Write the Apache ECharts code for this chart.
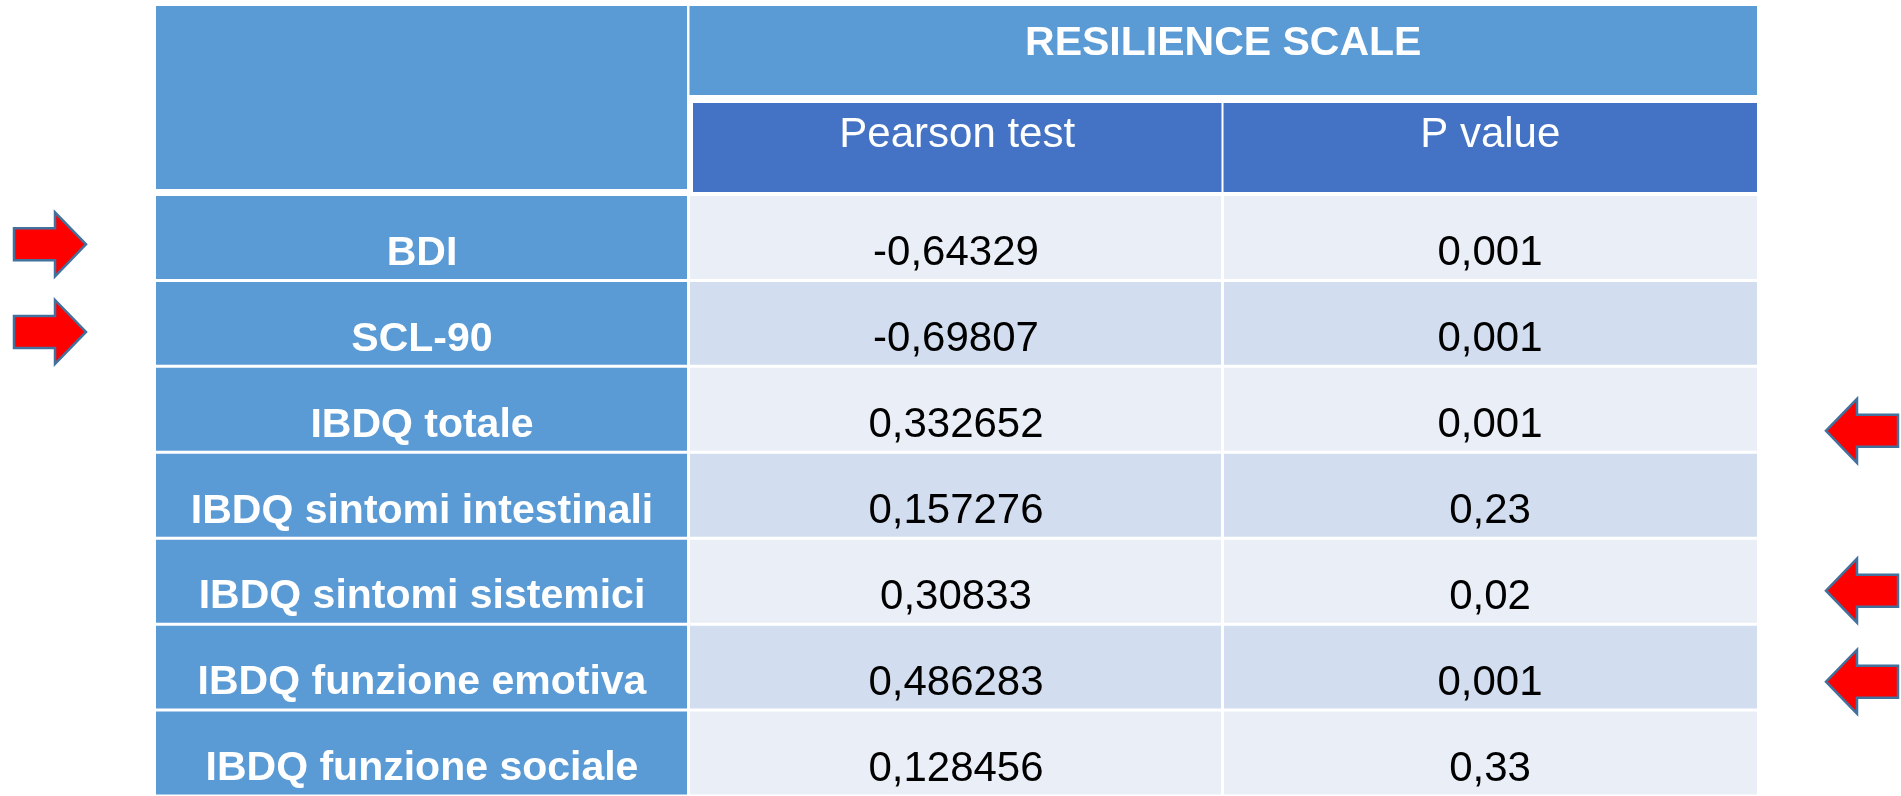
<!DOCTYPE html>
<html>
<head>
<meta charset="utf-8">
<script src="https://cdn.jsdelivr.net/npm/echarts@6/dist/echarts.min.js"></script>
<style>
html,body{margin:0;padding:0;background:#ffffff;}
#chart{width:1901px;height:796px;}
</style>
</head>
<body>
<div id="chart"></div>
<script>
// ---- data ----
const columnTitle = 'RESILIENCE SCALE';
const subHeaders = ['Pearson test', 'P value'];
const rowLabels = [
  'BDI',
  'SCL-90',
  'IBDQ totale',
  'IBDQ sintomi intestinali',
  'IBDQ sintomi sistemici',
  'IBDQ funzione emotiva',
  'IBDQ funzione sociale'
];
const pearsonValues = ['-0,64329', '-0,69807', '0,332652', '0,157276', '0,30833', '0,486283', '0,128456'];
const pValues = ['0,001', '0,001', '0,001', '0,23', '0,02', '0,001', '0,33'];
// arrow markers: row position (in row units from the top of the body)
const arrowsLeft = [0.58, 1.60];
const arrowsRight = [2.75, 4.61, 5.67];

// ---- build series data ----
const bodyData = [];
rowLabels.forEach(function (lab, i) {
  bodyData.push([0, i, lab]);
  bodyData.push([1, i, pearsonValues[i]]);
  bodyData.push([2, i, pValues[i]]);
});
// [col, row, colspan, rowspan, kind, text]
const headerData = [
  [0, 0, 1, 2, 'corner', ''],
  [1, 0, 2, 1, 'title', columnTitle],
  [1, 1, 1, 1, 'sub', subHeaders[0]],
  [2, 1, 1, 1, 'sub', subHeaders[1]]
];
const arrowData = arrowsLeft.map(function (v) { return [0, v]; })
  .concat(arrowsRight.map(function (v) { return [1, v]; }));

const FONT = "'Liberation Sans', Arial, sans-serif";
const C_HEAD = '#5B9BD5', C_SUB = '#4472C4', C_BAND1 = '#EAEFF7', C_BAND2 = '#D2DEEF';

function bodyItem(params, api) {
  const j = api.value(0), i = api.value(1);
  const p = api.coord([j, i]);
  const s = api.size([1, 1]);
  const bw = s[0], rh = s[1];
  const x0 = p[0] - bw / 2 + 1;
  const x1 = p[0] + bw / 2 - (j === 2 ? 0 : 2);
  const y0 = p[1] + 1.5, y1 = p[1] + rh - 1.5;
  const fill = j === 0 ? C_HEAD : (i % 2 === 0 ? C_BAND1 : C_BAND2);
  const label = api.value(2);
  return {
    type: 'group',
    children: [
      { type: 'rect', shape: { x: x0, y: y0, width: x1 - x0, height: y1 - y0 }, style: { fill: fill } },
      { type: 'text', x: p[0], y: p[1] + rh / 2 + 16,
        style: { text: String(label), fill: j === 0 ? '#ffffff' : '#000000',
          font: (j === 0 ? 'bold 41px ' : '42px ') + FONT, align: 'center', verticalAlign: 'middle' } }
    ]
  };
}

function headerItem(params, api) {
  const d = headerData[params.dataIndex];
  const col = d[0], row = d[1], cs = d[2], rs = d[3], kind = d[4], txt = d[5];
  const s = api.size([1, 1]);
  const a = api.coord([col, row]);
  const b = api.coord([col + cs - 1, row + rs]);
  let x0 = a[0] - s[0] / 2, x1 = b[0] + s[0] / 2, y0 = a[1], y1 = b[1];
  let fill = C_HEAD, font = 'bold 41px ' + FONT, dy = 0;
  if (kind === 'corner') { x0 += 1; x1 -= 2; y1 -= 3; }
  else if (kind === 'title') { x0 += 0.5; y1 -= 4; dy = -6.5; }
  else { fill = C_SUB; x0 += (col === 1 ? 4 : 0.5); x1 -= (col === 1 ? 1.5 : 0); y0 += 4; font = '42px ' + FONT; dy = -12.5; }
  const children = [{ type: 'rect', shape: { x: x0, y: y0, width: x1 - x0, height: y1 - y0 }, style: { fill: fill } }];
  if (txt) {
    children.push({ type: 'text', x: (x0 + x1) / 2, y: (y0 + y1) / 2 + dy,
      style: { text: txt, fill: '#ffffff', font: font, align: 'center', verticalAlign: 'middle' } });
  }
  return { type: 'group', children: children };
}

function arrowItem(params, api) {
  const side = api.value(0), v = api.value(1);
  const cs = params.coordSys;
  const c = api.coord([0, v])[1];
  let pts;
  if (side === 0) {
    const tip = cs.x - 69, t = tip - 72, hb = tip - 31;
    pts = [[t, c - 16], [hb, c - 16], [hb, c - 32], [tip, c], [hb, c + 32], [hb, c + 16], [t, c + 16]];
  } else {
    const tip = cs.x + cs.width + 69, t = tip + 72, hb = tip + 31;
    pts = [[t, c - 16], [hb, c - 16], [hb, c - 32], [tip, c], [hb, c + 32], [hb, c + 16], [t, c + 16]];
  }
  return { type: 'polygon', shape: { points: pts },
    style: { fill: '#FF0000', stroke: '#41719C', lineWidth: 2.5, lineJoin: 'miter' } };
}

const chart = echarts.init(document.getElementById('chart'), null, { renderer: 'canvas' });
chart.setOption({
  backgroundColor: '#ffffff',
  animation: false,
  grid: [
    { left: 155, right: 144, top: 194.5, height: 605.5 },
    { left: 155, right: 144, top: 6, height: 186 }
  ],
  xAxis: [
    { type: 'category', gridIndex: 0, data: ['label', 'pearson', 'p'], show: false },
    { type: 'category', gridIndex: 1, data: ['label', 'pearson', 'p'], show: false }
  ],
  yAxis: [
    { type: 'value', gridIndex: 0, min: 0, max: 7, inverse: true, show: false },
    { type: 'value', gridIndex: 1, min: 0, max: 2, inverse: true, show: false }
  ],
  series: [
    { type: 'custom', xAxisIndex: 0, yAxisIndex: 0, renderItem: bodyItem, data: bodyData,
      encode: { x: 0, y: 1 }, clip: false, silent: true },
    { type: 'custom', xAxisIndex: 1, yAxisIndex: 1, renderItem: headerItem, data: headerData.map(function (d) { return [d[0], d[1]]; }),
      encode: { x: 0, y: 1 }, clip: false, silent: true },
    { type: 'custom', xAxisIndex: 0, yAxisIndex: 0, renderItem: arrowItem, data: arrowData,
      encode: { y: 1 }, clip: false, silent: true }
  ]
});
</script>
</body>
</html>
